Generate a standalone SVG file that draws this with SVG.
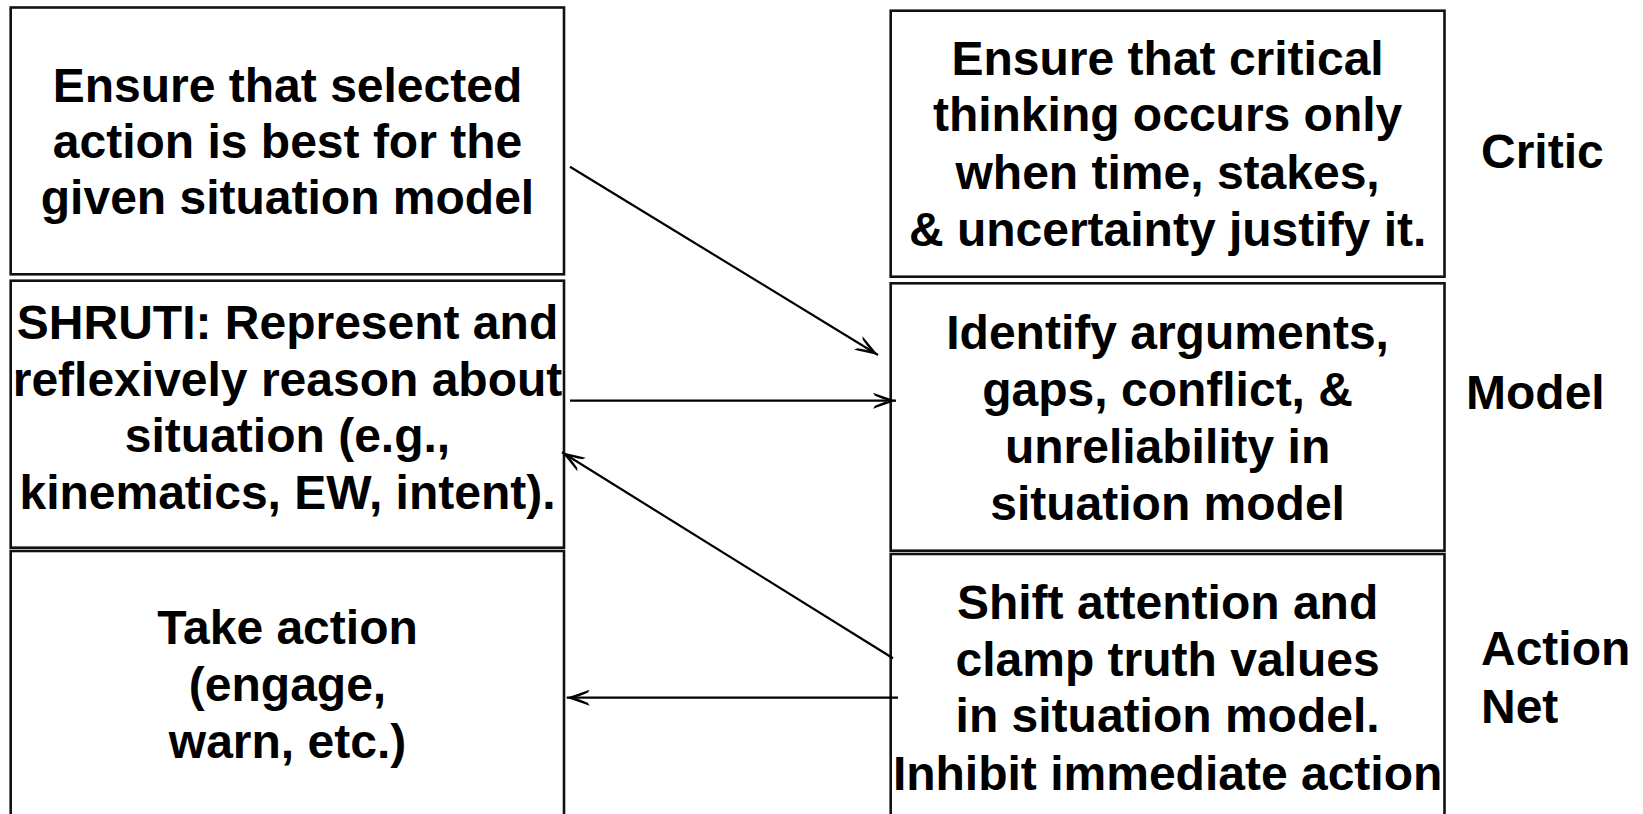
<svg xmlns="http://www.w3.org/2000/svg" width="1643" height="814" viewBox="0 0 1643 814">
<style>
.box{fill:#fff;stroke:#111;stroke-width:2.6}
.t{font-family:"Liberation Sans",Arial,sans-serif;font-weight:bold;font-size:48px;fill:#000;text-anchor:middle}
.lbl{font-family:"Liberation Sans",Arial,sans-serif;font-weight:bold;font-size:48px;fill:#000}
.conn{stroke:#000;stroke-width:2.2;fill:none;marker-end:url(#ah)}
</style>
<defs>
<marker id="ah" markerUnits="userSpaceOnUse" markerWidth="30" markerHeight="20" viewBox="-25 -10 27 20" refX="0" refY="0" orient="auto">
<path d="M0,0 L-23,-8 L-21,-5 Q-12,-1.2 -7,0 Q-12,1.2 -21,5 L-23,8 Z" fill="#000"/>
</marker>
</defs>
<rect width="1643" height="814" fill="#fff"/>
<g id="n-ensure-action">
<rect class="box" x="10.7" y="7.5" width="553.3" height="266.8"/>
<text class="t" x="287.5" y="101.5">Ensure that selected</text>
<text class="t" x="287.5" y="157.5">action is best for the</text>
<text class="t" x="287.5" y="213.5">given situation model</text>
</g>
<g id="n-shruti">
<rect class="box" x="10.7" y="280.7" width="553.3" height="267"/>
<text class="t" x="287.5" y="338.5">SHRUTI: Represent and</text>
<text class="t" x="287.5" y="395.5">reflexively reason about</text>
<text class="t" x="287.5" y="452">situation (e.g.,</text>
<text class="t" x="287.5" y="509">kinematics, EW, intent).</text>
</g>
<g id="n-take-action">
<rect class="box" x="10.7" y="551" width="553.3" height="290"/>
<text class="t" x="287.5" y="643.5">Take action</text>
<text class="t" x="287.5" y="701">(engage,</text>
<text class="t" x="287.5" y="758">warn, etc.)</text>
</g>
<g id="n-critical">
<rect class="box" x="890.7" y="10.7" width="553.8" height="266"/>
<text class="t" x="1167.6" y="74.5">Ensure that critical</text>
<text class="t" x="1167.6" y="131">thinking occurs only</text>
<text class="t" x="1167.6" y="188.5">when time, stakes,</text>
<text class="t" x="1167.6" y="246">&amp; uncertainty justify it.</text>
</g>
<g id="n-identify">
<rect class="box" x="890.7" y="283.3" width="553.8" height="267.4"/>
<text class="t" x="1167.6" y="348.5">Identify arguments,</text>
<text class="t" x="1167.6" y="406">gaps, conflict, &amp;</text>
<text class="t" x="1167.6" y="463">unreliability in</text>
<text class="t" x="1167.6" y="520">situation model</text>
</g>
<g id="n-shift">
<rect class="box" x="890.7" y="554" width="553.8" height="290"/>
<text class="t" x="1167.6" y="618.5">Shift attention and</text>
<text class="t" x="1167.6" y="675.5">clamp truth values</text>
<text class="t" x="1167.6" y="732">in situation model.</text>
<text class="t" x="1167.6" y="789.5">Inhibit immediate action</text>
</g>
<g id="labels">
<text class="lbl" x="1481" y="168">Critic</text>
<text class="lbl" x="1466" y="409">Model</text>
<text class="lbl" x="1481" y="665">Action</text>
<text class="lbl" x="1481" y="722.5">Net</text>
</g>
<g id="connectors">
<line class="conn" x1="570" y1="166.7" x2="878" y2="355"/>
<line class="conn" x1="570" y1="400.7" x2="896" y2="400.7"/>
<line class="conn" x1="893" y1="658.3" x2="562" y2="452.3"/>
<line class="conn" x1="898" y1="697.7" x2="566.7" y2="697.7"/>
</g>
</svg>
